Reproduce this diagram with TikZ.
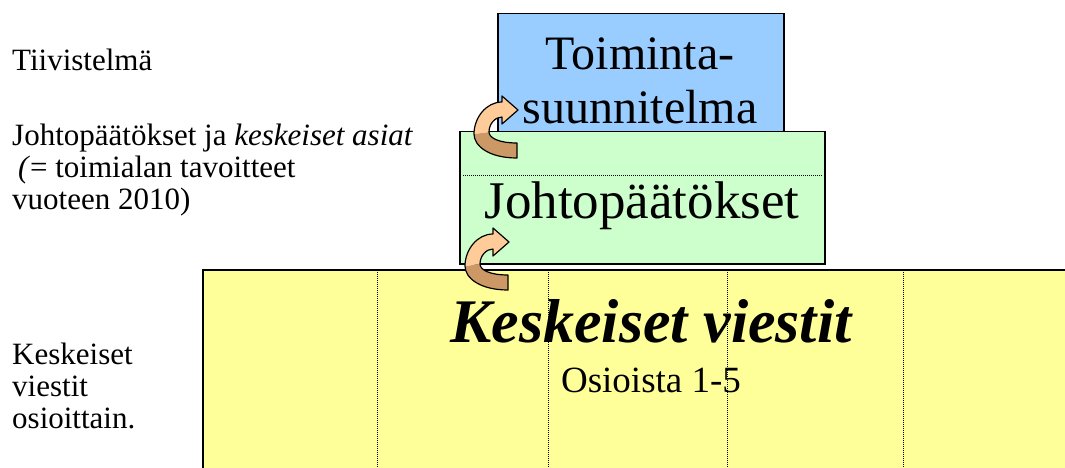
\documentclass[tikz,border=0pt]{standalone}
\usepackage{fontspec}
\setmainfont{Liberation Serif}
\usetikzlibrary{positioning}

\definecolor{planblue}{HTML}{99CCFF}
\definecolor{summgreen}{HTML}{CCFFCC}
\definecolor{msgyellow}{HTML}{FFFF99}
\definecolor{arrowfront}{HTML}{FFCC99}
\definecolor{arrowback}{HTML}{CC9966}

\tikzset{
  box/.style={draw=black, line width=1.5pt, inner sep=0pt, anchor=north west},
  sidetext/.style={anchor=north west, inner sep=0pt, align=left,
    font=\fontsize{31}{32}\selectfont},
  divider/.style={densely dotted, line width=1pt},
  turnarrow/.pic={
    % back side of the ribbon
    \fill[arrowback] (43,24) .. controls (15,24) and (0,12) .. (0,0)
      -- (15,-2) .. controls (15,4) and (25,9) .. (43,9) -- cycle;
    % front side with the head
    \fill[arrowfront] (0,0) .. controls (0,-16) and (12,-32) .. (28,-32)
      -- (28,-38) -- (44,-24) -- (28,-10) -- (28,-17)
      .. controls (21,-17) and (15,-10) .. (15,-2) -- cycle;
    \draw[line width=1.2pt, line join=round] (43,24) .. controls (15,24) and (0,12) .. (0,0)
      .. controls (0,-16) and (12,-32) .. (28,-32)
      -- (28,-38) -- (44,-24) -- (28,-10) -- (28,-17)
      .. controls (21,-17) and (15,-10) .. (15,-2)
      .. controls (15,4) and (25,9) .. (43,9) -- cycle;
  }
}

\begin{document}
\begin{tikzpicture}[x=1pt,y=-1pt]
  \useasboundingbox (0,0) rectangle (1065,468);
  \clip (0,0) rectangle (1065,468);

  % boxes
  \node[box, fill=planblue, minimum width=286pt, minimum height=130pt] (plan) at (497,13) {};
  \node[box, fill=summgreen, minimum width=365pt, minimum height=132pt] (summ) at (459,131) {};
  \node[box, fill=msgyellow, minimum width=900pt, minimum height=250pt] (msgs) at (202,269) {};

  \draw[divider] ([xshift=4pt,yshift=-44pt]summ.north west) -- ([xshift=-4pt,yshift=-44pt]summ.north east);
  \foreach \x in {377,548,727,903} {
    \draw[divider] (\x,270) -- (\x,470);
  }

  % texts in the boxes
  \node[anchor=base, inner sep=0pt, align=center, font=\fontsize{48}{54}\selectfont] (plantext) at (640,124) {Toiminta-\\suunnitelma};
  \node[anchor=base, inner sep=0pt, font=\fontsize{53}{60}\selectfont] (summtext) at (642,218) {Johtopäätökset};
  \node[anchor=base, inner sep=0pt, font=\fontsize{62}{70}\selectfont\bfseries\itshape] (msgtext) at (651,342) {Keskeiset viestit};
  \node[anchor=base, inner sep=0pt, font=\fontsize{37}{40}\selectfont] (parttext) at (651,392) {Osioista 1-5};

  % side texts
  \node[sidetext] (abstract) at (12,49) {Tiivistelmä};
  \node[sidetext] (concl) at (12,124) {Johtopäätökset ja \textit{keskeiset asiat}\\ \hspace*{6pt}\textit{(}= toimialan tavoitteet\\vuoteen 2010)};
  \node[sidetext] (parts) at (12,343) {Keskeiset\\viestit\\osioittain.};

  % arrows
  \pic at (474,134) {turnarrow};
  \pic at (465,266) {turnarrow};
\end{tikzpicture}
\end{document}
